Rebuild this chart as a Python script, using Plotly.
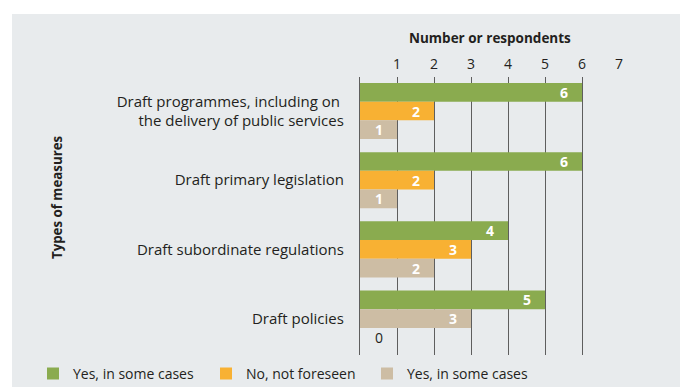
import plotly.graph_objects as go

# Measures, listed top to bottom
measures = [
    "Draft programmes, including on <br>the delivery of public services",
    "Draft primary legislation",
    "Draft subordinate regulations",
    "Draft policies",
]

# Response series (number of respondents per measure)
series_names = ["Yes, in some cases", "No, not foreseen", "Yes, in some cases"]
yes_some_cases = [6, 6, 4, 5]
no_not_foreseen = [2, 2, 3, 0]
yes_some_cases_b = [1, 1, 2, 3]
series_values = [yes_some_cases, no_not_foreseen, yes_some_cases_b]

# Row of each series inside a measure's block (last block lists the empty bar last)
slot_order = [[0, 1, 2], [0, 1, 2], [0, 1, 2], [0, 2, 1]]

x_tick_vals = [0, 1, 2, 3, 4, 5, 6, 7]
x_tick_text = ["", "1", "2", "3", "4", "5", "6", "7"]

colors = ["#8aab4f", "#f8b133", "#cdbda4"]
legend_widths = [128, 116, 118]

GROUP_STEP = 3.7
FONT = "Open Sans"
TEXT_COLOR = "#231f20"
GRID_COLOR = "#5e5e5e"
PANEL = "#e8ebed"

fig = go.Figure()
annotations = []

for s, (name, vals) in enumerate(zip(series_names, series_values)):
    ys = [g * GROUP_STEP + slot_order[g][s] for g in range(len(measures))]
    fig.add_trace(go.Bar(
        x=vals, y=ys, orientation="h", width=1,
        name=name, marker=dict(color=colors[s], line=dict(width=0)),
        legendwidth=legend_widths[s], hoverinfo="skip",
    ))
    for v, y in zip(vals, ys):
        if v > 0:
            annotations.append(dict(
                x=v, y=y, xref="x", yref="y", text=str(v), showarrow=False,
                xanchor="right", yanchor="middle", xshift=-12,
                font=dict(family=FONT, size=14, color="white", weight="bold"),
            ))
        else:
            annotations.append(dict(
                x=v, y=y, xref="x", yref="y", text=str(v), showarrow=False,
                xanchor="left", yanchor="middle", xshift=13,
                font=dict(family=FONT, size=14, color=TEXT_COLOR),
            ))

# Axis titles
annotations.append(dict(
    x=0.5, y=1.14, xref="paper", yref="paper", text="<b>Number or respondents</b>",
    showarrow=False, xanchor="center", yanchor="middle",
    font=dict(family=FONT, size=13.5, color=TEXT_COLOR),
))
annotations.append(dict(
    x=-1.17, y=0.568, xref="paper", yref="paper", text="<b>Types of measures</b>",
    showarrow=False, xanchor="center", yanchor="middle", textangle=-90,
    font=dict(family=FONT, size=13.3, color=TEXT_COLOR),
))

group_centers = [g * GROUP_STEP + 1 for g in range(len(measures))]

fig.update_layout(
    width=680, height=387,
    margin=dict(l=360, r=61, t=77, b=32, autoexpand=False),
    paper_bgcolor="white",
    plot_bgcolor=PANEL,
    barmode="overlay",
    font=dict(family=FONT, color=TEXT_COLOR, size=14),
    showlegend=True,
    legend=dict(
        orientation="h", x=-1.2625, y=-0.068, xanchor="left", yanchor="middle",
        font=dict(family=FONT, size=14, color=TEXT_COLOR),
        bgcolor="rgba(0,0,0,0)", traceorder="normal",
    ),
    xaxis=dict(
        side="top", range=[0, 7.0], tickvals=x_tick_vals, ticktext=x_tick_text,
        showgrid=True, gridcolor=GRID_COLOR, gridwidth=1.2, zeroline=False,
        showline=False, ticks="", tickfont=dict(family=FONT, size=14),
        ticklabelstandoff=4, automargin=False, fixedrange=True,
    ),
    yaxis=dict(
        range=[14.05, -0.82], tickvals=group_centers, ticktext=measures,
        showgrid=False, zeroline=False, showline=True, linecolor=GRID_COLOR,
        linewidth=1.2, ticks="", ticklabelstandoff=12,
        tickfont=dict(family=FONT, size=15), automargin=False, fixedrange=True,
    ),
    shapes=[dict(
        type="rect", xref="paper", yref="paper", layer="below",
        x0=(12 - 360) / 259, x1=(680 - 360) / 259 + 0.05,
        y0=-0.2, y1=(355 - 14) / 278,
        fillcolor=PANEL, line=dict(width=0),
    )],
    annotations=annotations,
)

fig.write_html("out.html")
